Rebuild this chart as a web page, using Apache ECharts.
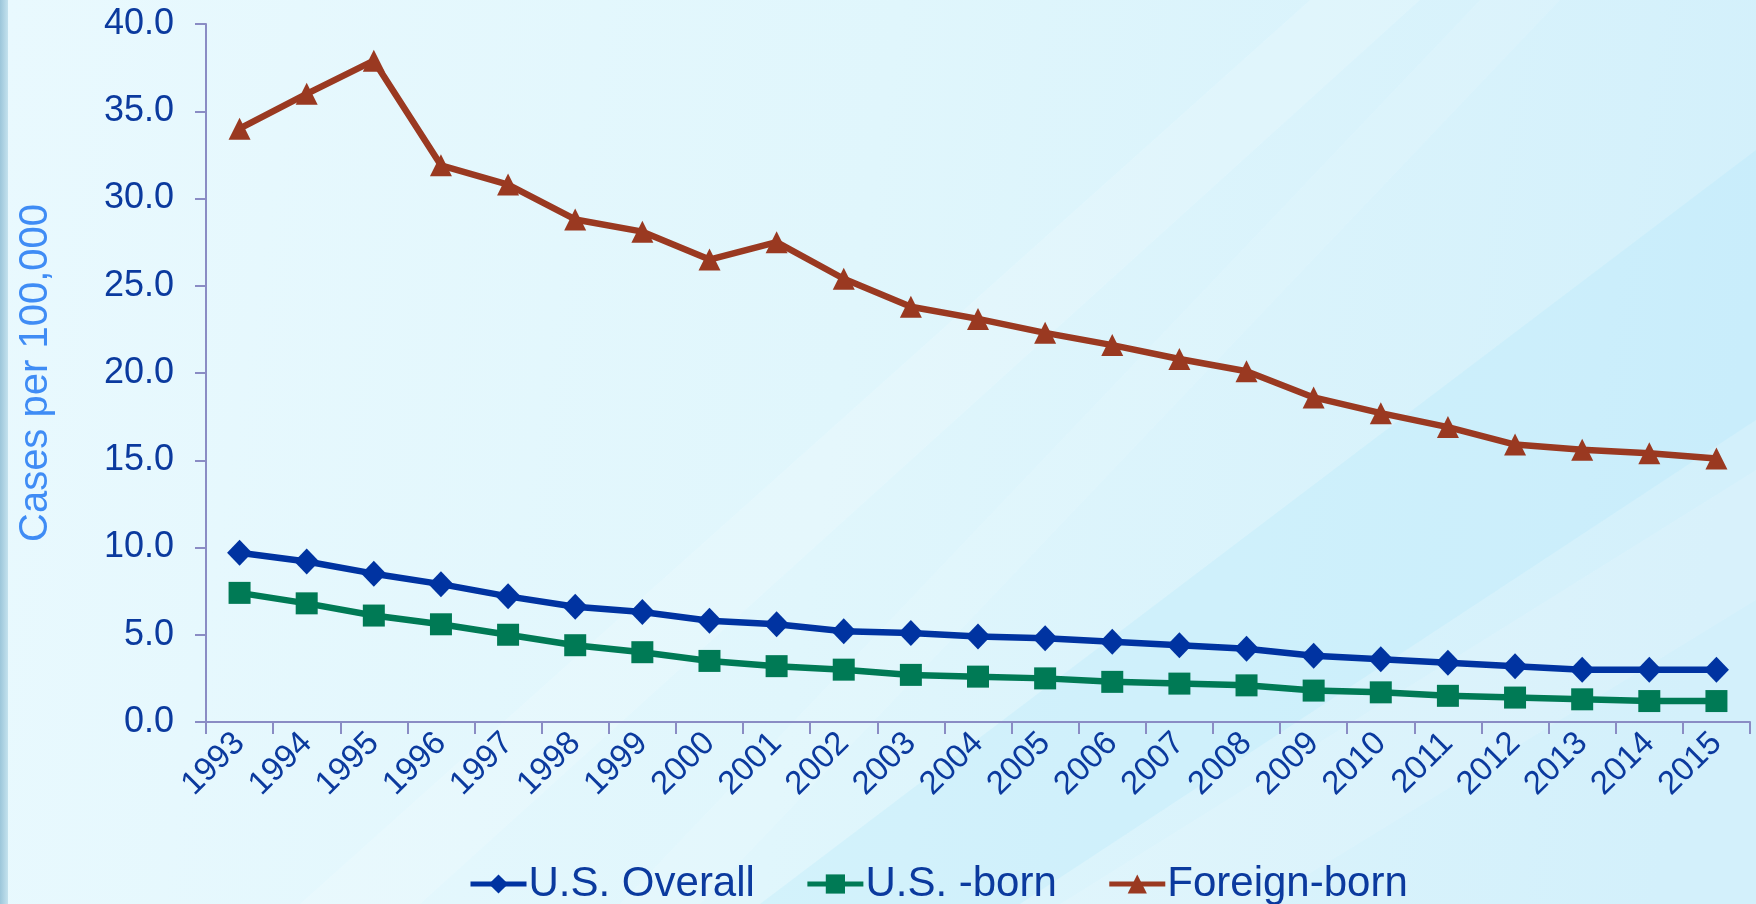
<!DOCTYPE html>
<html>
<head>
<meta charset="utf-8">
<title>TB case rates, 1993–2015</title>
<script src="https://cdn.jsdelivr.net/npm/echarts@6/dist/echarts.min.js"></script>
<style>
  html, body { margin: 0; padding: 0; }
  #chart { width: 1756px; height: 904px; }
</style>
</head>
<body>
<div id="chart"></div>
<script>
// Years on the category axis
const years = ['1993','1994','1995','1996','1997','1998','1999','2000','2001','2002','2003',
               '2004','2005','2006','2007','2008','2009','2010','2011','2012','2013','2014','2015'];

// Case rates per 100,000 population
const usOverall = [9.7, 9.2, 8.5, 7.9, 7.2, 6.6, 6.3, 5.8, 5.6, 5.2, 5.1, 4.9, 4.8, 4.6, 4.4, 4.2, 3.8, 3.6, 3.4, 3.2, 3.0, 3.0, 3.0];
const usBorn    = [7.4, 6.8, 6.1, 5.6, 5.0, 4.4, 4.0, 3.5, 3.2, 3.0, 2.7, 2.6, 2.5, 2.3, 2.2, 2.1, 1.8, 1.7, 1.5, 1.4, 1.3, 1.2, 1.2];
const foreignBorn = [34.0, 36.0, 37.9, 31.9, 30.8, 28.8, 28.1, 26.5, 27.5, 25.4, 23.8, 23.1, 22.3, 21.6, 20.8, 20.1, 18.6, 17.7, 16.9, 15.9, 15.6, 15.4, 15.1];

const seriesNames = ['U.S. Overall', 'U.S. -born', 'Foreign-born'];

const textBlue = '#0b3a9e';
const axisGrey = '#8a8cc4';
const FONT = '"Liberation Sans", Arial, sans-serif';

const chart = echarts.init(document.getElementById('chart'), null, { renderer: 'canvas' });

// Pale blue backdrop with soft diagonal bands
const backdrop = [
  { type: 'rect', z: -10, shape: { x: 0, y: 0, width: 1756, height: 904 },
    style: { fill: new echarts.graphic.LinearGradient(0, 0, 1, 0.3, [
      { offset: 0, color: '#e9f9fe' }, { offset: 0.5, color: '#e0f6fc' }, { offset: 1, color: '#d3f0fb' }]) } },
  { type: 'polygon', z: -9, shape: { points: [[300,904],[420,904],[1420,0],[1310,0]] },
    style: { fill: 'rgba(255,255,255,0.16)' } },
  { type: 'polygon', z: -9, shape: { points: [[620,904],[700,904],[1560,0],[1480,0]] },
    style: { fill: 'rgba(255,255,255,0.10)' } },
  { type: 'polygon', z: -9, shape: { points: [[760,904],[1020,904],[1756,420],[1756,150]] },
    style: { fill: 'rgba(170,228,250,0.24)' } },
  { type: 'polygon', z: -9, shape: { points: [[1060,904],[1260,904],[1756,600],[1756,470]] },
    style: { fill: 'rgba(255,255,255,0.12)' } },
  { type: 'rect', z: -8, shape: { x: 0, y: 0, width: 8, height: 904 },
    style: { fill: new echarts.graphic.LinearGradient(0, 0, 1, 0, [
      { offset: 0, color: '#9cc6da' }, { offset: 1, color: '#c4e2ee' }]) } }
];

function lineSeries(name, data, color, symbol, size) {
  return {
    name: name,
    type: 'line',
    data: data,
    symbol: symbol,
    symbolSize: size,
    showAllSymbol: true,
    lineStyle: { color: color, width: 6.5 },
    itemStyle: { color: color },
    emphasis: { disabled: true },
    animation: false
  };
}

chart.setOption({
  backgroundColor: 'transparent',
  graphic: backdrop,
  grid: { left: 206, right: 6, top: 24, bottom: 182, containLabel: false },
  legend: {
    data: seriesNames,
    left: 463,
    top: 858,
    itemWidth: 56,
    itemHeight: 24,
    itemGap: 50,
    lineStyle: { width: 5 },
    textStyle: { color: textBlue, fontSize: 42, fontFamily: FONT, padding: [0, 0, 0, -3] }
  },
  xAxis: {
    type: 'category',
    data: years,
    boundaryGap: true,
    axisLine: { lineStyle: { color: axisGrey, width: 2 } },
    axisTick: { show: true, alignWithLabel: false, length: 12, lineStyle: { color: axisGrey, width: 2 } },
    axisLabel: { rotate: 45, margin: 16, color: textBlue, fontSize: 33, fontFamily: FONT, interval: 0 },
    splitLine: { show: false }
  },
  yAxis: {
    type: 'value',
    min: 0, max: 40, interval: 5,
    name: 'Cases per 100,000',
    nameLocation: 'middle',
    nameGap: 150,
    nameRotate: 90,
    nameTextStyle: { color: '#3f8cf5', fontSize: 40, fontFamily: FONT },
    axisLine: { show: true, lineStyle: { color: axisGrey, width: 2 } },
    axisTick: { show: true, inside: false, length: 11, lineStyle: { color: axisGrey, width: 2 } },
    axisLabel: { margin: 32, color: textBlue, fontSize: 36, fontFamily: FONT,
                 formatter: v => v.toFixed(1) },
    splitLine: { show: false }
  },
  series: [
    lineSeries(seriesNames[0], usOverall, '#0033a1', 'diamond', [25, 26]),
    lineSeries(seriesNames[1], usBorn, '#007a55', 'rect', 22),
    lineSeries(seriesNames[2], foreignBorn, '#9a3921', 'triangle', [22, 22])
  ]
});
</script>
</body>
</html>
